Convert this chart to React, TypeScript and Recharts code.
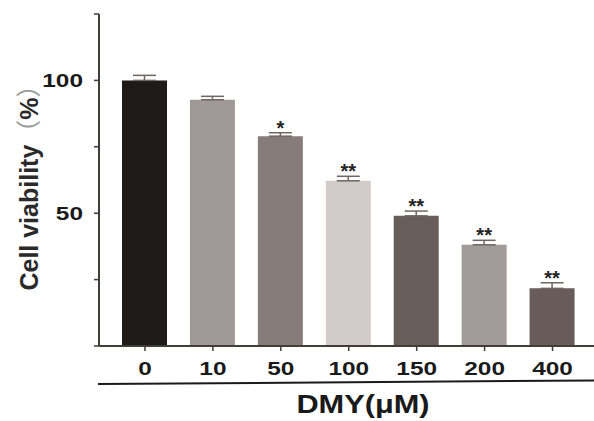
import React from 'react';
import { BarChart, Bar, XAxis, YAxis, Cell, ErrorBar, LabelList } from 'recharts';

const doses = ['0', '10', '50', '100', '150', '200', '400'];
const viability = [100, 92.7, 79.0, 62.2, 49.0, 38.1, 21.7];
const sd = [1.9, 1.3, 1.3, 1.7, 1.8, 1.7, 2.1];
const significance = ['', '', '*', '**', '**', '**', '**'];
const barColors = ['#1d1a17', '#9f9998', '#867d7b', '#d2cbca', '#675d59', '#a09a98', '#675c59'];
const yTicks = [0, 25, 50, 75, 100, 125];
const yTickLabels: Record<number, string> = { 50: '50', 100: '100' };
const xTitle = 'DMY(μM)';
const yTitleMain = 'Cell viability';
const yTitleUnit = ['（', '%', '）'];

const data = doses.map((d, i) => ({
  dose: d,
  value: viability[i],
  err: [0, sd[i]],
  sdv: sd[i],
  sig: significance[i],
}));

const FONT = '"Liberation Sans", Arial, sans-serif';
const CJK = '"Noto Sans CJK SC", sans-serif';
const AXIS = '#433d39';
const TEXT = '#1a1a1a';

const XTick = (props: any) => {
  const { x, y, payload } = props;
  return (
    <g transform={`translate(${x},${y})`}>
      <text transform="scale(1.32,1)" textAnchor="middle" y={22} fontSize={18.5} fontWeight="bold" fill={TEXT} fontFamily={FONT}>
        {payload.value}
      </text>
    </g>
  );
};

const YTick = (props: any) => {
  const { x, y, payload } = props;
  const label = yTickLabels[payload.value] || '';
  return (
    <g transform={`translate(${x},${y})`}>
      <text transform="scale(1.32,1)" textAnchor="end" y={6.5} fontSize={18.5} fontWeight="bold" fill={TEXT} fontFamily={FONT}>
        {label}
      </text>
    </g>
  );
};

const XTitle = (props: any) => {
  const vb = props.viewBox || { x: 99, y: 346, width: 495, height: 75 };
  const cx = vb.x + 264;
  const by = vb.y + 67;
  return (
    <g>
      <line x1={vb.x - 1} y1={vb.y + 38} x2={vb.x + vb.width} y2={vb.y + 34.5} stroke={TEXT} strokeWidth={2} />
      <g transform={`translate(${cx},${by})`}>
        <text transform="scale(1.23,1)" textAnchor="middle" fontSize={25} fontWeight="bold" fill={TEXT} fontFamily={FONT}>
          {xTitle}
        </text>
      </g>
    </g>
  );
};

const YTitle = (props: any) => {
  const vb = props.viewBox || { x: 0, y: 14, width: 99, height: 332 };
  const tx = vb.x + 38;
  const ty = vb.y + vb.height / 2 + 1.5;
  return (
    <text
      x={tx}
      y={ty}
      transform={`rotate(-90, ${tx}, ${ty})`}
      textAnchor="middle"
      fontSize={25}
      fontWeight="bold"
      fill="#2a2a2a"
      fontFamily={FONT}
    >
      <tspan>{yTitleMain}</tspan>
      <tspan fontFamily={CJK} fontWeight="normal" fill="#9a9a9a">{yTitleUnit[0]}</tspan>
      <tspan>{yTitleUnit[1]}</tspan>
      <tspan fontFamily={CJK} fontWeight="normal" fill="#9a9a9a">{yTitleUnit[2]}</tspan>
    </text>
  );
};

export default function App() {
  return (
    <div style={{ position: 'absolute', left: 0, top: 0, background: '#fff' }}>
      <BarChart width={594} height={421} data={data} margin={{ top: 14, right: 0, bottom: 0, left: 0 }} barSize={45}>
        <XAxis
          dataKey="dose"
          height={75}
          interval={0}
          padding={{ left: 12, right: 7.5 }}
          tickSize={5}
          axisLine={{ stroke: AXIS, strokeWidth: 2 }}
          tickLine={{ stroke: AXIS, strokeWidth: 1.5 }}
          tick={<XTick />}
          label={XTitle}
        />
        <YAxis
          width={99}
          domain={[0, 125]}
          ticks={yTicks}
          interval={0}
          tickSize={5}
          tickMargin={11}
          axisLine={{ stroke: AXIS, strokeWidth: 2 }}
          tickLine={{ stroke: AXIS, strokeWidth: 1.5 }}
          tick={<YTick />}
          label={YTitle}
        />
        <Bar dataKey="value" stackId="s" isAnimationActive={false}>
          {data.map((d, i) => (
            <Cell key={d.dose} fill={barColors[i]} />
          ))}
          <ErrorBar dataKey="err" width={11.5} stroke="#6e6562" strokeWidth={1.5} direction="y" isAnimationActive={false} />
        </Bar>
        <Bar dataKey="sdv" stackId="s" fill="transparent" isAnimationActive={false}>
          <LabelList dataKey="sig" position="top" offset={-2} fill="#222" fontSize={20} fontWeight="bold" fontFamily={FONT} />
        </Bar>
      </BarChart>
    </div>
  );
}
